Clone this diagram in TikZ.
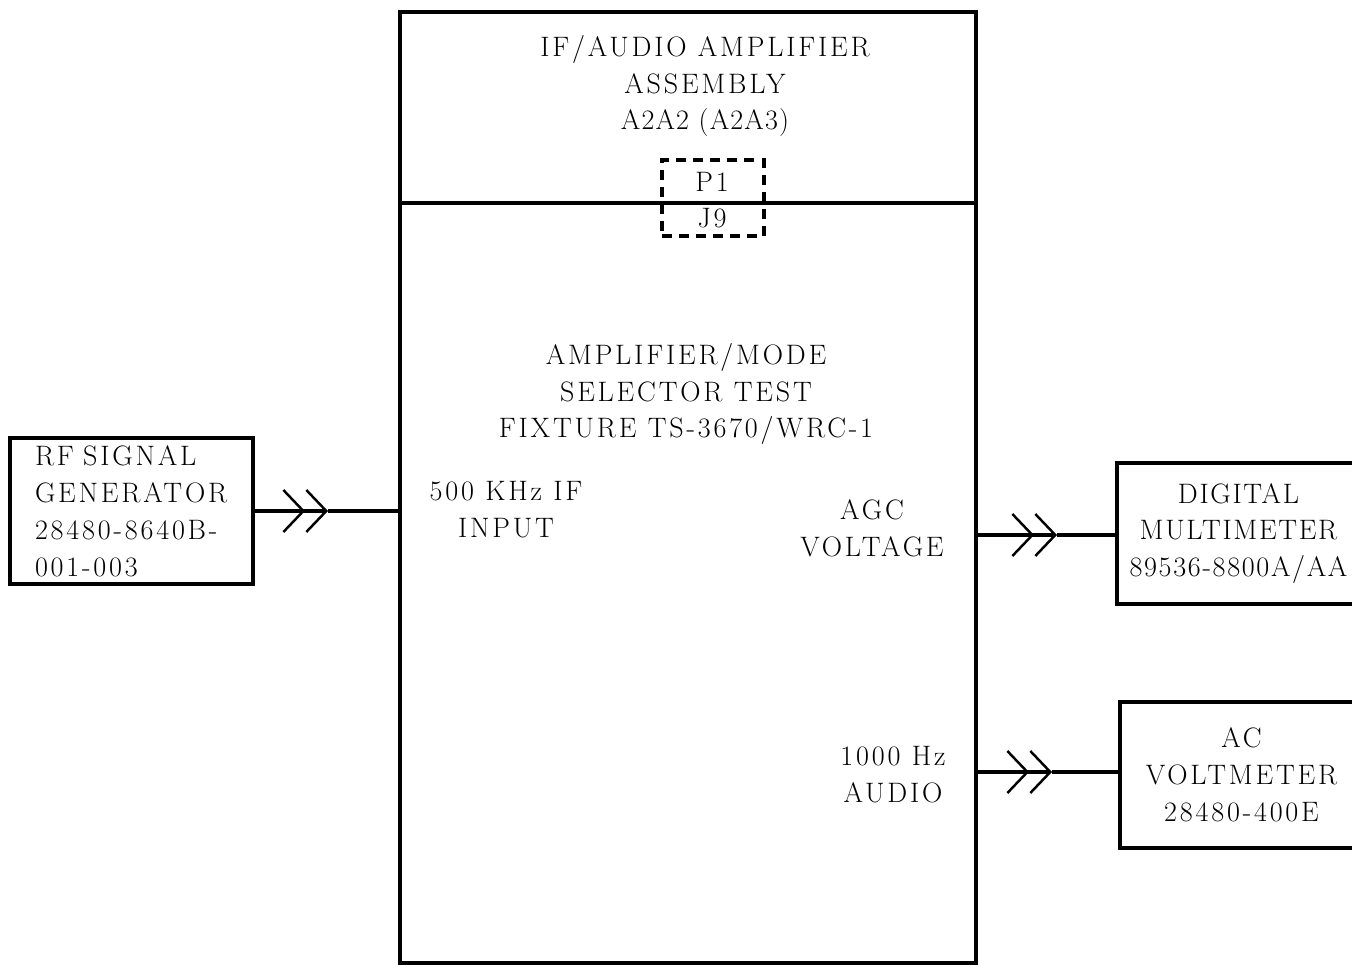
\documentclass[tikz,border=0pt]{standalone}
\usepackage{fontspec}
\setmainfont{Latin Modern Roman}[LetterSpace=10]
\usepackage{tikz}
\usetikzlibrary{arrows.meta,positioning,calc}

\begin{document}
\begin{tikzpicture}[
	x=0.02cm, y=-0.02cm,
	unit/.style={
		draw,
		line width=2pt,
		minimum width=4.86cm,
		align=center,
		font=\fontsize{16}{21}\selectfont,
		inner sep=0pt
	},
	panel/.style={
		draw,
		line width=2pt,
		minimum width=11.52cm,
		inner sep=0pt
	},
	lbl/.style={
		align=center,
		font=\fontsize{16}{21}\selectfont,
		inner sep=0pt
	},
	feed/.style={line width=2pt},
	plug/.style={
		feed,
		-{Straight Barb[length=0.4cm,width=0.84cm,line width=1.4pt]
		  Straight Barb[length=0.4cm,width=0.84cm,line width=1.4pt]}
	}
]
\useasboundingbox (0,0) rectangle (1352,964);
\clip (0,0) rectangle (1352,964);

% fixture and the assembly plugged into it
\node[panel, minimum height=3.82cm] (assy) at (688,107.5) {};
\node[panel, minimum height=15.2cm] (fixture) at (688,583) {};

\node[lbl] (assytext) at (705,86)
	{IF/AUDIO AMPLIFIER\\ASSEMBLY\\{\addfontfeatures{LetterSpace=4}A2A2 (A2A3)}};

\node[draw, line width=2pt, dash pattern=on 5.7pt off 4pt,
	minimum width=2.04cm, minimum height=1.52cm] (conn) at (713,198) {};
\node[lbl] (p1) at (712,182) {P1};
\node[lbl] (j9) at (712,218) {J9};

\node[lbl] (fixtext) at (686,394)
	{AMPLIFIER/MODE\\SELECTOR TEST\\FIXTURE TS-3670/WRC-1};
\node[lbl] (ifin) at (506,510) {500 KHz IF\\INPUT};
\node[lbl] (agc) at (872,528) {AGC\\VOLTAGE};
\node[lbl] (audio) at (893,775) {1000 Hz\\AUDIO};

% test equipment
\node[unit, minimum height=2.92cm, text width=3.86cm, align=left,
	inner xsep=0.5cm] (rfgen) at (131.5,511)
	{RF SIGNAL\\GENERATOR\\28480-8640B-\\001-003};

\node[unit, minimum height=2.82cm,
	font=\fontsize{16}{21}\selectfont\addfontfeatures{LetterSpace=6}]
	(dmm) at (1238.5,533.5)
	{DIGITAL\\MULTIMETER\\89536-8800A/AA};

\node[unit, minimum height=2.92cm] (acvm) at (1241.5,775)
	{AC\\VOLTMETER\\28480-400E};

% cables
\coordinate (rfjack) at (328,511);
\coordinate (dmmjack) at (1057,535);
\coordinate (acjack) at (1052,772);

\draw[plug] (rfgen.east |- rfjack) -- (rfjack);
\draw[feed] (rfjack) -- (rfjack -| fixture.west);

\draw[plug] (fixture.east |- dmmjack) -- (dmmjack);
\draw[feed] (dmmjack) -- (dmmjack -| dmm.west);

\draw[plug] (fixture.east |- acjack) -- (acjack);
\draw[feed] (acjack) -- (acjack -| acvm.west);

\end{tikzpicture}
\end{document}
